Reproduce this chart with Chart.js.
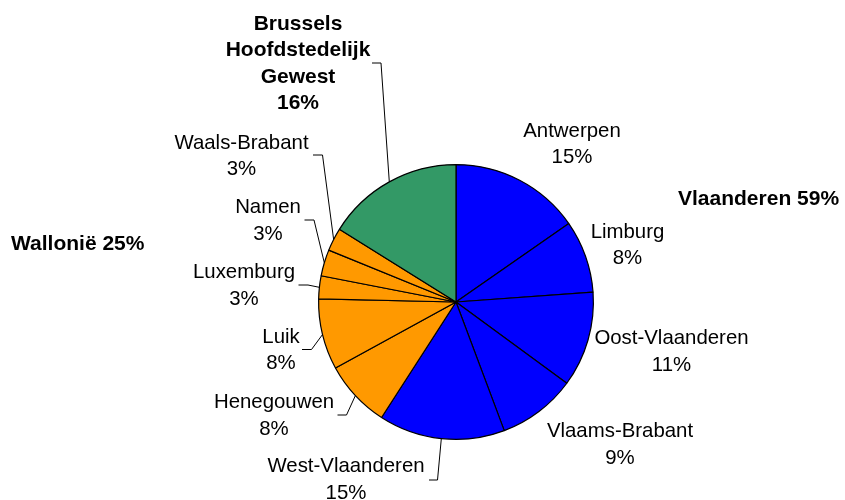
<!DOCTYPE html>
<html>
<head>
<meta charset="utf-8">
<script src="https://cdn.jsdelivr.net/npm/chart.js@4/dist/chart.umd.min.js"></script>
<style>
html,body{margin:0;padding:0;background:#fff;}
#wrap{width:845px;height:500px;position:relative;}
</style>
</head>
<body>
<div id="wrap"><canvas id="c" width="845" height="500"></canvas></div>
<script>
// ---- data ----
const categories = ['Antwerpen','Limburg','Oost-Vlaanderen','Vlaams-Brabant','West-Vlaanderen','Henegouwen','Luik','Luxemburg','Namen','Waals-Brabant','Brussels Hoofdstedelijk Gewest'];
const shares = [15.3, 8.5, 11.2, 9.2, 14.8, 7.9, 8.3, 2.7, 3.1, 2.7, 16.1];
const shareLabels = ['15%','8%','11%','9%','15%','8%','8%','3%','3%','3%','16%'];
const sliceRegion = ['Vlaanderen','Vlaanderen','Vlaanderen','Vlaanderen','Vlaanderen','Wallonië','Wallonië','Wallonië','Wallonië','Wallonië','Brussel'];
const regionTitles = ['Vlaanderen 59%','Wallonië 25%'];

// ---- styles ----
const regionColors = {'Vlaanderen':'#0000FF','Wallonië':'#FF9900','Brussel':'#339966'};
const FONT = '"Liberation Sans", Arial, Helvetica, sans-serif';
const LH = 26.5;
// label layout: center x, first line center y, name lines, leader elbow points (or null), bold
const labelLayout = [
  {x:572, y:131, lines:['Antwerpen']},
  {x:627.5, y:232, lines:['Limburg']},
  {x:671.5, y:338.5, lines:['Oost-Vlaanderen']},
  {x:620, y:431.5, lines:['Vlaams-Brabant']},
  {x:346, y:466.5, lines:['West-Vlaanderen'], elbow:[[429,480],[437.5,480]]},
  {x:274, y:402.5, lines:['Henegouwen'], elbow:[[337.5,415],[346.5,415]]},
  {x:281, y:337, lines:['Luik'], elbow:[[302,349.5],[311.5,349.5]]},
  {x:244, y:272.5, lines:['Luxemburg'], elbow:[[298.5,285],[308,285]]},
  {x:268, y:207.5, lines:['Namen'], elbow:[[304.5,220],[314,220]]},
  {x:241.5, y:143, lines:['Waals-Brabant'], elbow:[[313,155],[322.5,155]]},
  {x:298, y:24, lines:['Brussels','Hoofdstedelijk','Gewest'], elbow:[[372,63],[381,63]], bold:true}
];
const regionTitleLayout = [
  {x:678, y:199, align:'left'},
  {x:11, y:244, align:'left'}
];

const labelPlugin = {
  id:'labels',
  afterDraw(chart){
    const ctx = chart.ctx;
    const meta = chart.getDatasetMeta(0);
    ctx.save();
    // leader lines
    ctx.strokeStyle = '#000';
    ctx.lineWidth = 1;
    labelLayout.forEach((L,i)=>{
      if(!L.elbow) return;
      const arc = meta.data[i];
      const p = arc.getProps(['x','y','startAngle','endAngle','outerRadius'], true);
      const mid = (p.startAngle + p.endAngle)/2;
      const ex = p.x + p.outerRadius*Math.cos(mid);
      const ey = p.y + p.outerRadius*Math.sin(mid);
      ctx.beginPath();
      ctx.moveTo(L.elbow[0][0], L.elbow[0][1]);
      ctx.lineTo(L.elbow[1][0], L.elbow[1][1]);
      ctx.lineTo(ex, ey);
      ctx.stroke();
    });
    // text
    ctx.fillStyle = '#000';
    ctx.textAlign = 'center';
    ctx.textBaseline = 'middle';
    labelLayout.forEach((L,i)=>{
      ctx.font = (L.bold ? 'bold 21px ' : '20.4px ') + FONT;
      const all = L.lines.concat([shareLabels[i]]);
      all.forEach((t,k)=> ctx.fillText(t, L.x, L.y + k*LH));
    });
    ctx.font = 'bold 21px ' + FONT;
    regionTitleLayout.forEach((R,i)=>{
      ctx.textAlign = R.align;
      ctx.fillText(regionTitles[i], R.x, R.y);
    });
    ctx.restore();
  }
};

new Chart(document.getElementById('c'), {
  type:'pie',
  data:{
    labels: categories,
    datasets:[{
      data: shares,
      backgroundColor: sliceRegion.map(r=>regionColors[r]),
      borderColor:'#000',
      borderWidth:1.2
    }]
  },
  options:{
    responsive:false,
    animation:false,
    devicePixelRatio:1,
    layout:{padding:{left:318, right:251, top:164, bottom:60}},
    plugins:{legend:{display:false}, tooltip:{enabled:false}},
  },
  plugins:[labelPlugin]
});
</script>
</body>
</html>
